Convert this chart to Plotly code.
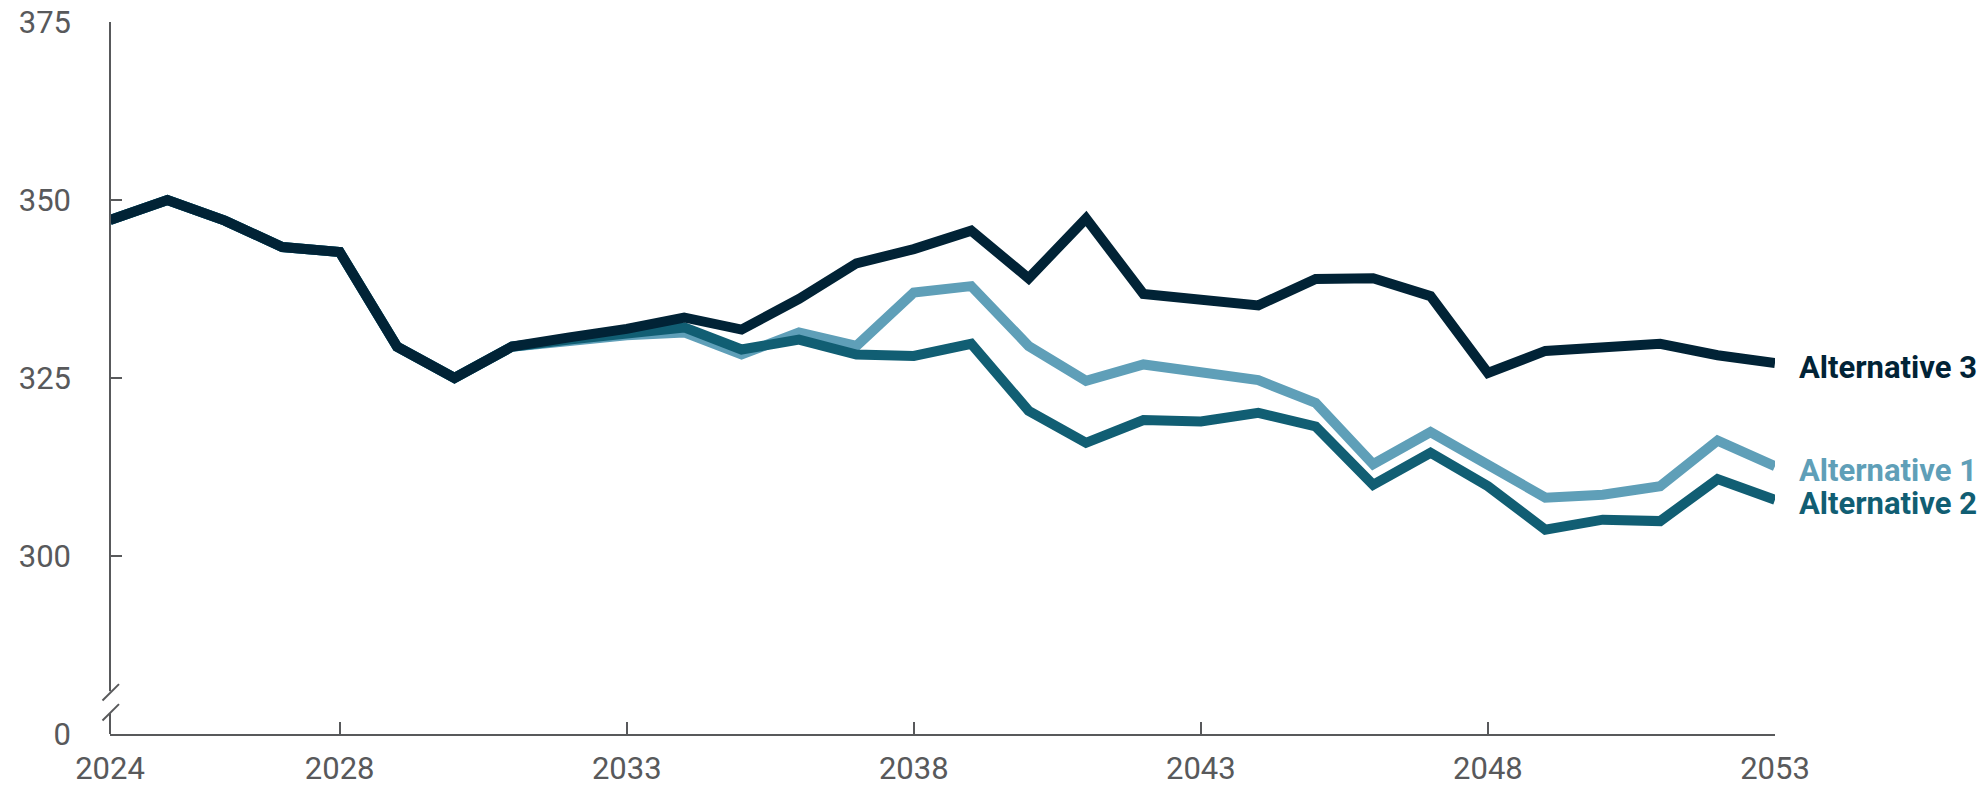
import plotly.graph_objects as go

years = list(range(2024, 2054))

alt3 = [347.2, 350.0, 347.1, 343.4, 342.7, 329.4, 325.0, 329.4, 330.7, 331.9,
        333.5, 331.8, 336.1, 341.1, 343.1, 345.7, 339.0, 347.4, 336.8, 336.1,
        335.2, 338.9, 339.0, 336.5, 325.7, 328.8, 329.4, 329.8, 328.2, 327.1]

alt1 = [347.2, 350.0, 347.1, 343.4, 342.7, 329.4, 325.0, 329.4, 330.2, 331.0,
        331.4, 328.3, 331.4, 329.5, 337.0, 337.9, 329.5, 324.6, 326.9, 325.7,
        324.7, 321.5, 312.9, 317.4, 312.8, 308.2, 308.6, 309.8, 316.2, 312.6]

alt2 = [347.2, 350.0, 347.1, 343.4, 342.7, 329.4, 325.0, 329.4, 330.4, 331.3,
        332.1, 329.0, 330.4, 328.3, 328.1, 329.8, 320.4, 315.9, 319.1, 318.9,
        320.1, 318.2, 310.0, 314.5, 309.8, 303.7, 305.1, 304.9, 310.8, 307.9]

series_names = ["Alternative 1", "Alternative 2", "Alternative 3"]
series_colors = ["#5f9fb8", "#115e73", "#012336"]

x_tickvals = [2024, 2028, 2033, 2038, 2043, 2048, 2053]
y_tickvals = [275, 300, 325, 350, 375]
y_ticktext = ["0", "300", "325", "350", "375"]

AXIS_COLOR = "#58595b"
FONT = "Roboto"

fig = go.Figure()
for name, vals, col in zip(series_names, [alt1, alt2, alt3], series_colors):
    fig.add_trace(go.Scatter(x=years, y=vals, mode="lines", name=name,
                             line=dict(color=col, width=10),
                             showlegend=False, hoverinfo="skip"))

# end labels
for name, vals, col in zip(series_names, [alt1, alt2, alt3], series_colors):
    fig.add_annotation(x=years[-1], y=vals[-1], xref="x", yref="y",
                       text=name, showarrow=False, xanchor="left", yanchor="middle",
                       xshift=22, yshift=-4,
                       font=dict(family=FONT, size=31, color=col, weight="bold"))

# y-axis line with break
shape_line = dict(color=AXIS_COLOR, width=2)
fig.add_shape(type="line", xref="paper", yref="y", x0=0, x1=0, y0=375, y1=281.0,
              line=shape_line, layer="above")
fig.add_shape(type="line", xref="paper", yref="y", x0=0, x1=0, y0=277.9, y1=275,
              line=shape_line, layer="above")
for y0, y1 in [(279.7, 282.0), (276.9, 279.2)]:
    fig.add_shape(type="line", xref="paper", yref="y", xsizemode="pixel", xanchor=0,
                  x0=-7.5, x1=9, y0=y0, y1=y1, line=shape_line, layer="above")

fig.update_layout(
    width=1987, height=789,
    margin=dict(l=102, r=220, t=13.5, b=63, autoexpand=False),
    paper_bgcolor="white", plot_bgcolor="white",
    font=dict(family=FONT, color=AXIS_COLOR),
)
fig.update_xaxes(range=[2024, 2053], tickvals=x_tickvals, ticks="inside", ticklen=12,
                 tickwidth=2, tickcolor=AXIS_COLOR, showline=True, linecolor=AXIS_COLOR,
                 linewidth=2, showgrid=False, zeroline=False, automargin=False,
                 tickfont=dict(family=FONT, size=31, color=AXIS_COLOR),
                 ticklabelstandoff=6, ticklabeloverflow="allow")
fig.update_yaxes(range=[275, 375], tickvals=y_tickvals, ticktext=y_ticktext,
                 ticks="inside", ticklen=12, tickwidth=2, tickcolor=AXIS_COLOR,
                 showline=False, showgrid=False, zeroline=False, automargin=False,
                 tickfont=dict(family=FONT, size=31, color=AXIS_COLOR),
                 ticklabelstandoff=38, ticklabeloverflow="allow")

fig.write_html("out.html")
